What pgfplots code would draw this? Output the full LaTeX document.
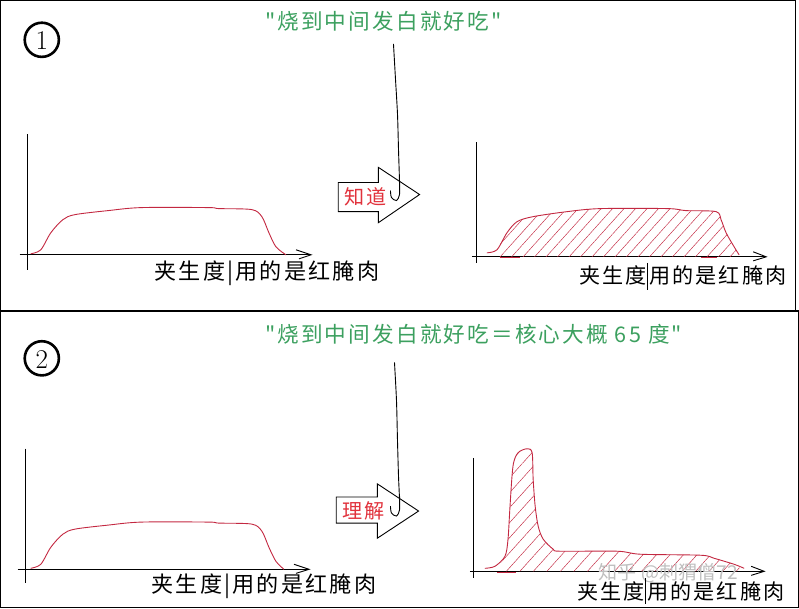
\documentclass[border=0pt]{standalone}
\usepackage{pgfplots}
\pgfplotsset{compat=1.18}
\usetikzlibrary{patterns.meta}
\usepackage{fontspec}
\newfontfamily\cjk[LetterSpace=10]{Noto Sans CJK SC}
\newfontfamily\cjkplain{Noto Sans CJK SC}
\definecolor{curvered}{RGB}{195,40,65}
\definecolor{labelred}{RGB}{225,50,60}
\definecolor{quotegreen}{RGB}{60,160,95}
\begin{document}
\begin{tikzpicture}
\begin{axis}[width=799pt,height=610pt,scale only axis,
  xmin=0,xmax=799,ymin=0,ymax=610,y dir=reverse,
  axis lines=none,clip=false]
% panel frames
\draw[line width=1.2pt] (3,2) rectangle (794,311);
\draw[line width=1.2pt] (3,311) rectangle (797,606);
% circled numbers
\draw[line width=2.6pt] (44,41) circle[radius=17pt];
\node at (44,42) {\fontsize{27}{28}\selectfont 1};
\draw[line width=2.6pt] (44,358) circle[radius=17pt];
\node at (44,359) {\fontsize{27}{28}\selectfont 2};
% green quotes
\node[anchor=west,text=quotegreen,inner sep=0pt] at (266,23) {\cjk\fontsize{21.5}{22}\selectfont "烧到中间发白就好吃"};
\node[anchor=west,text=quotegreen,inner sep=0pt] at (266,334) {\cjk\fontsize{21.5}{22}\selectfont "烧到中间发白就好吃＝核心大概 65 度"};
% hand-drawn connector lines
\draw[line width=0.9pt,smooth] plot coordinates {(394,45) (396,80) (398,115) (399,150) (400,185) (399,197) (395,201) (392,196) (392,190)};
\draw[line width=0.9pt] (405,186) .. controls (410,194) and (409,200) .. (404,205);
\draw[line width=0.9pt,smooth] plot coordinates {(395,362) (397,400) (398,440) (399,475) (400,500) (399,511) (395,515) (392,510) (392,504)};
\draw[line width=0.9pt] (404,500) .. controls (409,508) and (408,514) .. (403,519);
% block arrows
\draw[line width=0.9pt,fill=white] (339,183) -- (379,183) -- (379,168) -- (420,195) -- (379,223) -- (379,212) -- (339,212) -- cycle;
\draw[line width=0.9pt,fill=white] (337,496) -- (378,496) -- (378,483) -- (419,510) -- (378,537) -- (378,522) -- (337,522) -- cycle;
\draw[line width=0.9pt,smooth] plot coordinates {(400,180) (400,195) (397,201) (392,198) (391,191)};
\draw[line width=0.9pt,smooth] plot coordinates {(400,494) (400,509) (397,515) (392,512) (391,505)};
\node[text=labelred,inner sep=0pt] at (366,197) {\cjk\fontsize{20}{21}\selectfont 知道};
\node[text=labelred,inner sep=0pt] at (364,510) {\cjk\fontsize{20}{21}\selectfont 理解};
% ---- panel 1 left axes
\draw[line width=0.9pt] (30,135) -- (30,270);
\draw[line width=0.9pt] (22,255) -- (312,255);
\draw[line width=0.9pt] (297,250) -- (312,255) -- (300,259);
\addplot[curvered,line width=0.9pt,smooth] coordinates {
 (33,254) (43,250) (53,233) (65,220) (77,215) (110,211) (143,208) (210,208)
 (220,209) (253,210) (263,217) (270,233) (277,247) (287,255)};
\node[anchor=west,inner sep=0pt] at (156,273) {\cjk\fontsize{22}{23}\selectfont 夹生度|用的是红腌肉};
% ---- panel 1 right axes
\draw[line width=0.9pt] (477,143) -- (477,263);
\draw[line width=0.9pt] (472,257) -- (765,257);
\draw[line width=0.9pt] (752,252) -- (765,257) -- (752,261);
\addplot[draw=none,pattern={Lines[angle=48,distance=8.5pt,line width=0.45pt]},pattern color=curvered,smooth] coordinates {
 (490,257) (497,250) (507,233) (517,222) (533,217) (567,212) (600,209) (667,209)
 (685,211) (715,212) (720,220) (725,233) (733,247) (738,257)};
\addplot[curvered,line width=0.9pt,smooth] coordinates {
 (487,253) (497,250) (507,233) (517,222) (533,217) (567,212) (600,209) (667,209)
 (685,211) (715,212) (720,220) (725,233) (733,247) (738,255)};
\addplot[curvered,line width=1pt] coordinates {(500,258) (520,258)};
\addplot[curvered,line width=1pt] coordinates {(700,258) (716,258)};
\node[anchor=west,inner sep=0pt] at (579,276) {\cjk\fontsize{21}{22}\selectfont 夹生度用的是红腌肉};
\draw[line width=0.9pt] (647,263) -- (647,290);
% ---- panel 2 left axes
\draw[line width=0.9pt] (28,448) -- (28,582);
\draw[line width=0.9pt] (20,568) -- (310,568);
\draw[line width=0.9pt] (295,563) -- (310,568) -- (297,572);
\addplot[curvered,line width=0.9pt,smooth] coordinates {
 (33,567) (43,563) (53,546) (65,533) (77,528) (110,524) (143,521) (210,521)
 (220,522) (253,523) (263,530) (270,546) (277,560) (285,568)};
\node[anchor=west,inner sep=0pt] at (153,585) {\cjk\fontsize{22}{23}\selectfont 夹生度|用的是红腌肉};
% ---- panel 2 right axes
\draw[line width=0.9pt] (474,457) -- (474,577);
\draw[line width=0.9pt] (470,570) -- (763,570);
\draw[line width=0.9pt] (750,565) -- (763,570) -- (750,574);
\addplot[draw=none,pattern={Lines[angle=48,distance=10pt,line width=0.45pt]},pattern color=curvered,smooth] coordinates {
 (495,570) (505,555) (508,538) (510,505) (513,465) (518,452) (527,448) (532,452)
 (533,478) (535,505) (538,525) (543,538) (553,548) (560,550) (617,550) (640,553)
 (700,554) (713,557) (733,563) (743,570)};
\addplot[curvered,line width=0.9pt,smooth] coordinates {
 (485,567) (495,565) (505,555) (508,538) (510,505) (513,465) (518,452) (527,448) (532,452)
 (533,478) (535,505) (538,525) (543,538) (553,548) (560,550) (617,550) (640,553)
 (700,554) (713,557) (733,563) (743,567)};
\addplot[curvered,line width=1pt] coordinates {(497,571) (516,571)};
\node[anchor=west,inner sep=0pt,text=black!25] at (598,572) {\cjkplain\fontsize{19}{20}\selectfont 知乎 @刺猬僧72};
\node[anchor=west,inner sep=0pt] at (577,590) {\cjk\fontsize{21}{22}\selectfont 夹生度用的是红腌肉};
\draw[line width=0.9pt] (645,577) -- (645,603);
\end{axis}
\end{tikzpicture}
\end{document}
